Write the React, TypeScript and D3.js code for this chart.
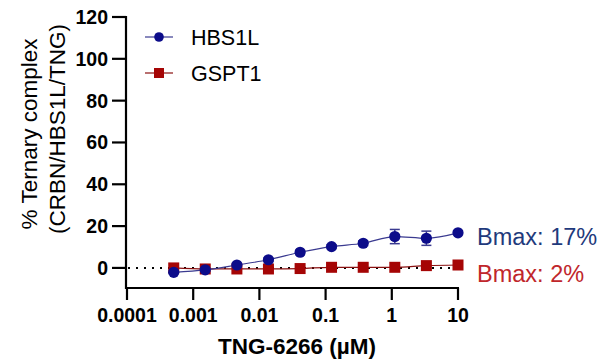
import React from "react";
import * as d3 from "d3";

const concentrations = [0.000508, 0.00152, 0.00457, 0.0137, 0.0412, 0.123, 0.370, 1.11, 3.33, 10];
const hbs1lValues = [-2.1, -0.9, 1.4, 3.9, 7.5, 10.2, 11.8, 15.0, 14.2, 16.8];
const hbs1lErrors = [0.6, 0.6, 0.8, 0.8, 0.9, 0.9, 1.2, 3.4, 3.4, 0.8];
const gspt1Values = [0.0, -0.5, -0.5, -0.5, -0.3, 0.3, 0.3, 0.3, 1.1, 1.4];
const gspt1Errors = [0.5, 0.5, 0.5, 0.5, 0.5, 0.5, 0.5, 0.5, 0.6, 0.6];
const xTicks = [0.0001, 0.001, 0.01, 0.1, 1, 10];
const xTickLabels = ["0.0001", "0.001", "0.01", "0.1", "1", "10"];
const yTicks = [0, 20, 40, 60, 80, 100, 120];
const seriesNames = ["HBS1L", "GSPT1"];
const bmaxLabels = ["Bmax: 17%", "Bmax: 2%"];

const FONT = "'Liberation Sans', Arial, sans-serif";
const BLUE = "#0c0c8a";
const BLUE_LINE = "#3a3a90";
const RED = "#a50505";
const RED_LINE = "#8a1010";

export default function App() {
  const x = d3.scaleLog().domain([0.0001, 10]).range([127, 458]);
  const y = d3.scaleLinear().domain([-9.6, 120]).range([288, 17]);

  const line = d3
    .line<number>()
    .x((_, i) => x(concentrations[i]))
    .y((d) => y(d))
    .curve(d3.curveMonotoneX);

  const xAxisY = 288;
  const yAxisX = 126;

  return (
    <svg
      width={611}
      height={359}
      style={{ position: "absolute", left: 0, top: 0, background: "#fff" }}
      fontFamily={FONT}
    >
      {/* Y axis */}
      <line x1={yAxisX} x2={yAxisX} y1={y(120) - 1} y2={xAxisY + 1} stroke="#000" strokeWidth={2.2} />
      {yTicks.map((t) => (
        <g key={t}>
          <line x1={yAxisX - 14} x2={yAxisX} y1={y(t)} y2={y(t)} stroke="#000" strokeWidth={2.2} />
          <text x={108} y={y(t)} dy="0.36em" textAnchor="end" fontSize={19.5} fontWeight="bold" fill="#000">
            {t}
          </text>
        </g>
      ))}
      {/* X axis */}
      <line x1={yAxisX - 1} x2={x(10) + 1} y1={xAxisY} y2={xAxisY} stroke="#000" strokeWidth={2.2} />
      {xTicks.map((t, i) => (
        <g key={t}>
          <line x1={x(t)} x2={x(t)} y1={xAxisY} y2={xAxisY + 12} stroke="#000" strokeWidth={2.2} />
          <text x={x(t)} y={322} textAnchor="middle" fontSize={19.5} fontWeight="bold" fill="#000">
            {xTickLabels[i]}
          </text>
        </g>
      ))}
      <text x={297} y={354} textAnchor="middle" fontSize={22.5} fontWeight="bold" fill="#000">
        TNG-6266 (µM)
      </text>
      {/* Y title */}
      <text transform="translate(37,134) rotate(-90)" textAnchor="middle" fontSize={22.5} fill="#000">
        % Ternary complex
      </text>
      <text transform="translate(65,129) rotate(-90)" textAnchor="middle" fontSize={22.5} fill="#000">
        (CRBN/HBS1L/TNG)
      </text>

      {/* zero dotted line */}
      <line x1={yAxisX + 2} x2={x(10)} y1={y(0)} y2={y(0)} stroke="#000" strokeWidth={2} strokeDasharray="2,6" />

      {/* GSPT1 */}
      <path d={line(gspt1Values) || ""} fill="none" stroke={RED_LINE} strokeWidth={1.2} />
      {gspt1Values.map((v, i) => (
        <g key={"g" + i}>
          <line x1={x(concentrations[i])} x2={x(concentrations[i])} y1={y(v - gspt1Errors[i])} y2={y(v + gspt1Errors[i])} stroke={RED} strokeWidth={1.5} />
          <rect x={x(concentrations[i]) - 5.5} y={y(v) - 5.5} width={11} height={11} fill={RED} />
        </g>
      ))}

      {/* HBS1L */}
      <path d={line(hbs1lValues) || ""} fill="none" stroke={BLUE_LINE} strokeWidth={1.2} />
      {hbs1lValues.map((v, i) => {
        const cx = x(concentrations[i]);
        const y1 = y(v - hbs1lErrors[i]);
        const y2 = y(v + hbs1lErrors[i]);
        return (
          <g key={"h" + i}>
            <line x1={cx} x2={cx} y1={y1} y2={y2} stroke={BLUE_LINE} strokeWidth={1.5} />
            <line x1={cx - 5} x2={cx + 5} y1={y1} y2={y1} stroke={BLUE_LINE} strokeWidth={1.5} />
            <line x1={cx - 5} x2={cx + 5} y1={y2} y2={y2} stroke={BLUE_LINE} strokeWidth={1.5} />
            <circle cx={cx} cy={y(v)} r={5.6} fill={BLUE} />
          </g>
        );
      })}

      {/* Legend */}
      <line x1={145} x2={173} y1={37} y2={37} stroke={BLUE_LINE} strokeWidth={1.2} />
      <circle cx={159} cy={37} r={4.8} fill={BLUE} />
      <text x={191} y={44.5} fontSize={21.5} fill="#000">{seriesNames[0]}</text>
      <line x1={145} x2={173} y1={73} y2={73} stroke={RED_LINE} strokeWidth={1.2} />
      <rect x={154} y={68} width={10} height={10} fill={RED} />
      <text x={191} y={80.5} fontSize={21.5} fill="#000">{seriesNames[1]}</text>

      {/* Bmax labels */}
      <text x={477} y={245} fontSize={23.5} fill="#1f3a7c">{bmaxLabels[0]}</text>
      <text x={477} y={282} fontSize={23.5} fill="#c0262b">{bmaxLabels[1]}</text>
    </svg>
  );
}
